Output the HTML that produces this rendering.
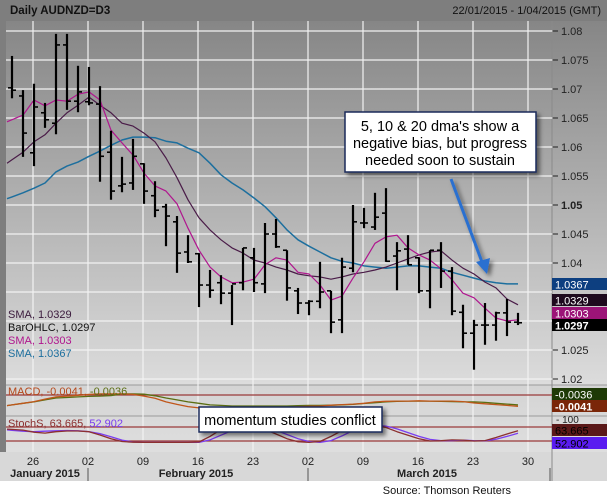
<!DOCTYPE html>
<html><head><meta charset="utf-8">
<style>
body{margin:0;padding:0;background:#fff;}
svg{display:block;font-family:"Liberation Sans",Arial,sans-serif;}
</style></head>
<body>
<svg id="chart" width="607" height="498" viewBox="0 0 607 498" xmlns="http://www.w3.org/2000/svg">
<defs>
<linearGradient id="gPlot" x1="0" y1="0" x2="0" y2="1">
<stop offset="0" stop-color="#868686"/><stop offset="1" stop-color="#dcdcdc"/>
</linearGradient>
<linearGradient id="gLow" x1="0" y1="0" x2="0" y2="1">
<stop offset="0" stop-color="#d4d4d4"/><stop offset="1" stop-color="#dedede"/>
</linearGradient>
<filter id="shadow" x="-10%" y="-10%" width="130%" height="140%"><feDropShadow dx="3" dy="3" stdDeviation="2" flood-color="#000" flood-opacity="0.5"/></filter>
</defs>
<rect x="0" y="0" width="607" height="481" fill="#7e7e7e"/>
<text x="10" y="14" font-size="11.5" font-weight="bold" fill="#111">Daily AUDNZD=D3</text>
<text x="601" y="14" font-size="11" text-anchor="end" fill="#111">22/01/2015 - 1/04/2015 (GMT)</text>
<rect x="6" y="21" width="546" height="364" fill="url(#gPlot)"/>
<rect x="552" y="21" width="55" height="364" fill="url(#gPlot)"/>
<rect x="6" y="385" width="601" height="67" fill="url(#gLow)"/>
<rect x="0" y="452" width="607" height="29" fill="#d8d8d8"/>
<line x1="6" y1="385" x2="607" y2="385" stroke="#9a9a9a"/>
<line x1="6" y1="416" x2="607" y2="416" stroke="#9a9a9a"/>
<line x1="552" y1="21" x2="552" y2="481" stroke="#8a8a8a"/>
<rect x="0" y="481" width="607" height="17" fill="#fff"/>
<text x="511" y="494" font-size="11" text-anchor="end" fill="#111">Source: Thomson Reuters</text>
<g id="grid"></g>
<g id="marks"></g>
<g id="ann"></g>
</svg>
<script>
const dayTickIdx=[2,7,12,17,22,27,32,37,42,47];
const dayTickLabels=["26","02","09","16","23","02","09","16","23","30"];
const priceTicks=[1.08,1.075,1.07,1.065,1.06,1.055,1.05,1.045,1.04,1.035,1.03,1.025,1.02];
const priceTickLabels=["1.08","1.075","1.07","1.065","1.06","1.055","1.05","1.045","1.04","","","1.025","1.02"];
const opens=[1.0702,1.0688,1.0590,1.0659,1.0641,1.0776,1.0679,1.0678,1.0674,1.0591,1.0533,1.0538,1.0571,1.0516,1.0497,1.0471,1.0419,1.0416,1.0362,1.0366,1.0348,1.0366,1.0409,1.0364,1.0450,1.0422,1.0352,1.0331,1.0334,1.0352,1.0302,1.0391,1.0469,1.0462,1.0486,1.0412,1.0424,1.0409,1.0352,1.0422,1.0386,1.0315,1.0279,1.0293,1.0293,1.0314,1.0298];
const highs=[1.0757,1.0698,1.0709,1.0676,1.0795,1.0795,1.0740,1.0738,1.0705,1.0628,1.0583,1.0614,1.0572,1.0541,1.0502,1.0481,1.0448,1.0417,1.0388,1.0379,1.0362,1.0426,1.0426,1.0469,1.0476,1.0422,1.0357,1.0336,1.0402,1.0352,1.0409,1.0500,1.0495,1.0521,1.0529,1.0436,1.0448,1.0410,1.0422,1.0436,1.0393,1.0328,1.0302,1.0331,1.0316,1.0338,1.0314];
const lows=[1.0684,1.0583,1.0567,1.0633,1.0622,1.0664,1.0660,1.0672,1.0540,1.0509,1.0522,1.0526,1.0502,1.0479,1.0429,1.0383,1.0400,1.0324,1.0340,1.0329,1.0293,1.0353,1.0350,1.0348,1.0426,1.0335,1.0312,1.0310,1.0322,1.0279,1.0279,1.0384,1.0460,1.0457,1.0402,1.0353,1.0397,1.0348,1.0322,1.0357,1.0310,1.0253,1.0216,1.0259,1.0266,1.0274,1.0293];
const closes=[1.0698,1.0624,1.0669,1.0647,1.0776,1.0679,1.0695,1.0676,1.0584,1.0524,1.0536,1.0584,1.0524,1.0491,1.0481,1.0417,1.0402,1.0362,1.0353,1.0348,1.0364,1.0426,1.0366,1.0450,1.0428,1.0357,1.0331,1.0334,1.0350,1.0298,1.0393,1.0471,1.0469,1.0479,1.0403,1.0421,1.0397,1.0352,1.0422,1.0386,1.0317,1.0279,1.0293,1.0293,1.0314,1.0298,1.0297];
const sma5=[1.0647,1.0655,1.0681,1.0671,1.0681,1.0679,1.0691,1.0695,1.0681,1.0629,1.0607,1.0586,1.0555,1.0533,1.0524,1.0502,1.0460,1.0422,1.0393,1.0376,1.0366,1.0367,1.0372,1.0397,1.0409,1.0405,1.0384,1.0381,1.0362,1.0336,1.0343,1.0374,1.0402,1.0434,1.0445,1.0448,1.0426,1.0414,1.0405,1.0390,1.0371,1.0348,1.0340,1.0322,1.0305,1.0300,1.0302];
const sma10=[1.0578,1.0591,1.0609,1.0621,1.0641,1.0659,1.0672,1.0686,1.0672,1.0659,1.0641,1.0636,1.0624,1.0609,1.0581,1.0547,1.0509,1.0478,1.0457,1.0440,1.0426,1.0417,1.0405,1.0400,1.0393,1.0388,1.0381,1.0378,1.0376,1.0372,1.0376,1.0381,1.0384,1.0388,1.0393,1.0400,1.0407,1.0414,1.0419,1.0421,1.0405,1.0391,1.0381,1.0367,1.0357,1.0338,1.0328];
const sma20=[1.0514,1.0521,1.0529,1.0538,1.0557,1.0567,1.0574,1.0584,1.0593,1.0603,1.0612,1.0617,1.0617,1.0616,1.0610,1.0607,1.0598,1.0590,1.0572,1.0552,1.0538,1.0526,1.0512,1.0497,1.0478,1.0457,1.0440,1.0429,1.0419,1.0409,1.0403,1.0400,1.0395,1.0393,1.0391,1.0393,1.0395,1.0395,1.0393,1.0391,1.0384,1.0379,1.0374,1.0369,1.0366,1.0364,1.0364];
const macdSignal=[-0.0036,-0.0030,-0.0025,-0.0018,-0.0011,-0.0009,-0.0007,-0.0005,-0.0004,-0.0002,0.0004,0.0004,0.0003,-0.0003,-0.0011,-0.0018,-0.0025,-0.0030,-0.0036,-0.0038,-0.0040,-0.0040,-0.0040,-0.0040,-0.0040,-0.0040,-0.0039,-0.0038,-0.0038,-0.0037,-0.0036,-0.0034,-0.0031,-0.0028,-0.0025,-0.0023,-0.0022,-0.0022,-0.0022,-0.0023,-0.0024,-0.0025,-0.0025,-0.0027,-0.0030,-0.0033,-0.0036];
const macdLine=[-0.0036,-0.0030,-0.0024,-0.0015,-0.0007,-0.0004,-0.0001,0.0002,0.0004,0.0004,0.0004,0.0002,-0.0004,-0.0012,-0.0025,-0.0034,-0.0042,-0.0047,-0.0049,-0.0050,-0.0051,-0.0050,-0.0049,-0.0048,-0.0047,-0.0045,-0.0043,-0.0041,-0.0040,-0.0037,-0.0035,-0.0033,-0.0030,-0.0025,-0.0023,-0.0022,-0.0022,-0.0021,-0.0022,-0.0022,-0.0022,-0.0024,-0.0029,-0.0032,-0.0035,-0.0038,-0.0041];
const stochK=[70,67,58,54,60,63,63,60,46,30,18,15,14,14,14,14,14,16,40,70,85,88,80,70,50,30,17,14,18,40,65,85,90,88,78,60,45,30,20,22,25,24,20,22,35,50,64];
const stochD=[66,62,60,62,64,65,64,60,52,38,24,16,14,14,14,14,14,14,25,45,65,80,85,78,66,48,30,18,14,22,42,65,82,88,84,72,56,40,27,22,22,24,22,21,28,40,53];

const NS="http://www.w3.org/2000/svg";
const grid=document.getElementById('grid'), marks=document.getElementById('marks');
function X(i){return 12+11*i;}
function Y(p){return 31+(1.08-p)*5800;}
function YM(v){return 395-v*2750;}
function YS(v){return 445.7-v*0.2333;}
function mk(tag,attrs,parent){const e=document.createElementNS(NS,tag);for(const k in attrs)e.setAttribute(k,attrs[k]);parent.appendChild(e);return e;}

priceTicks.forEach((p,k)=>{
  const y=Y(p);
  const l=mk('line',{x1:6,x2:552,y1:y,y2:y,stroke:'#f2f2f2','stroke-width':1.2},grid);
  
  
  if(priceTickLabels[k]){
    const t=mk('line',{x1:553,x2:558,y1:y,y2:y,stroke:'#222'},grid);
    
    
    const tx=mk('text',{x:561,y:y+4,'font-size':11,fill:'#222','font-weight':p===1.05?'bold':'normal'},grid);
    tx.textContent=priceTickLabels[k];
    
    
  }
});
dayTickIdx.forEach((d,k)=>{
  const x=X(d)-1;
  if(x<552){
    const l=mk('line',{x1:x,x2:x,y1:21,y2:452,stroke:'#f2f2f2','stroke-width':1.2},grid);
    
    
  }
  const t=mk('text',{x:x,y:465,'font-size':11,fill:'#222','text-anchor':'middle'},grid);
  t.textContent=dayTickLabels[k];
  
  
});
[[395,'macd-zero-line'],[427,'stoch-upper-line'],[441,'stoch-lower-line']].forEach(a=>{
  const l=mk('line',{x1:6,x2:552,y1:a[0],y2:a[0],stroke:'#9a3a3a','stroke-width':1.2},grid);
  
  
});
[["January 2015",45],["February 2015",196],["March 2015",427]].forEach(m=>{
  const t=mk('text',{x:m[1],y:477,'font-size':11,'font-weight':'bold',fill:'#222','text-anchor':'middle'},grid);
  t.textContent=m[0];
  
  
});
[88,308,550].forEach(x=>{
  const l=mk('line',{x1:x,x2:x,y1:468,y2:481,stroke:'#555'},grid);
  
  
});

function line(arr,yf,color,w,name){
  const pts=arr.map((v,i)=>X(i)+','+yf(v).toFixed(1));
  // extend to panel left edge using first slope
  const x0=7, y0=yf(arr[0])-(yf(arr[1])-yf(arr[0]))*(X(0)-x0)/11;
  const pl=mk('polyline',{points:x0+','+y0.toFixed(1)+' '+pts.join(' '),fill:'none',stroke:color,'stroke-width':w,'stroke-linejoin':'round'},marks);
  
  
}
line(sma20,Y,'#1d6f9e',1.5,'sma20-line');
line(sma10,Y,'#4a1c48',1.2,'sma10-line');
line(sma5,Y,'#b0168e',1.2,'sma5-line');
opens.forEach((o,i)=>{
  const x=X(i);
  const g=mk('g',{stroke:'#000','stroke-width':2.2},marks);
  
  
  mk('line',{x1:x,x2:x,y1:Y(highs[i]),y2:Y(lows[i])},g);
  mk('line',{x1:x-4,x2:x,y1:Y(o),y2:Y(o),'stroke-width':1.6},g);
  mk('line',{x1:x,x2:x+4,y1:Y(closes[i]),y2:Y(closes[i]),'stroke-width':1.6},g);
});
line(macdSignal,YM,'#5b6e12',1.3,'macd-signal-line');
line(macdLine,YM,'#c0561a',1.3,'macd-line');
line(stochD,YS,'#7a3cf0',1.3,'stoch-d-line');
line(stochK,YS,'#8c3030',1.3,'stoch-k-line');
</script>
<script>
(function(){
const ann=document.getElementById('ann');
const NS="http://www.w3.org/2000/svg";
function mk(tag,attrs,parent){const e=document.createElementNS(NS,tag);for(const k in attrs)e.setAttribute(k,attrs[k]);parent.appendChild(e);return e;}
function txt(x,y,s,attrs,name){const t=mk('text',Object.assign({x:x,y:y},attrs),ann);t.textContent=s;return t;}
txt(8,318,'SMA, 1.0329',{'font-size':11,fill:'#3a1a3c'},'legend-sma10');
txt(8,331,'BarOHLC, 1.0297',{'font-size':11,fill:'#111'},'legend-bar-ohlc');
txt(8,344,'SMA, 1.0303',{'font-size':11,fill:'#b0168e'},'legend-sma5');
txt(8,357,'SMA, 1.0367',{'font-size':11,fill:'#1d6f9e'},'legend-sma20');
const ml=txt(8,395,'',{'font-size':11},'macd-legend');
ml.innerHTML='<tspan fill="#b5471a">MACD, -0.0041, </tspan><tspan fill="#5b6e12">-0.0036</tspan>';
const sl=txt(8,427,'',{'font-size':11},'stoch-legend');
sl.innerHTML='<tspan fill="#8c3030">StochS, 63.665, </tspan><tspan fill="#7a3cf0">52.902</tspan>';
[[278,'#0d3f80','#fff','1.0367','sma20-value-box'],[294,'#1e0a1e','#fff','1.0329','sma10-value-box'],[307,'#9c1478','#fff','1.0303','sma5-value-box'],[319,'#000','#fff','1.0297','close-value-box'],
 [388,'#1e3a06','#fff','-0.0036','signal-value-box'],[400,'#7a2608','#fff','-0.0041','macd-value-box'],[424,'#5a1818','#000','63.665','stoch-k-value-box'],[437,'#5a1cf0','#000','52.902','stoch-d-value-box']].forEach(b=>{
  const r=mk('rect',{x:552,y:b[0],width:55,height:12,fill:b[1]},ann);
  
  
  txt(555,b[0]+10.5,b[3],{'font-size':11,fill:b[2],'font-weight':b[3]==='1.0297'||b[3]==='-0.0041'?'bold':'normal'},b[4]+'-label');
});
txt(556,423,'- 100',{'font-size':10,fill:'#222'},'stoch-top-label');
const b1=mk('rect',{x:345,y:112,width:191,height:60,fill:'#fff',stroke:'#1a2a5a','stroke-width':1.5,filter:'url(#shadow)'},ann);


txt(440,131,"5, 10 & 20 dma's show a",{'font-size':14.5,fill:'#000','text-anchor':'middle'},'callout-ma-text-1');
txt(440,148,"negative bias, but progress",{'font-size':14.5,fill:'#000','text-anchor':'middle'},'callout-ma-text-2');
txt(440,165,"needed soon to sustain",{'font-size':14.5,fill:'#000','text-anchor':'middle'},'callout-ma-text-3');
const ar=mk('g',{filter:'url(#shadow)'},ann);


mk('line',{x1:451,y1:179,x2:482,y2:262,stroke:'#2a6fd0','stroke-width':3},ar);
mk('polygon',{points:'476,262 490,258 487,274',fill:'#2a6fd0'},ar);
const b2=mk('rect',{x:199,y:407,width:183,height:25,fill:'#fff',stroke:'#1a2a5a','stroke-width':1.5,filter:'url(#shadow)'},ann);


txt(290,425,'momentum studies conflict',{'font-size':14.5,fill:'#000','text-anchor':'middle'},'callout-momentum-text');
})();
</script>
</body></html>
